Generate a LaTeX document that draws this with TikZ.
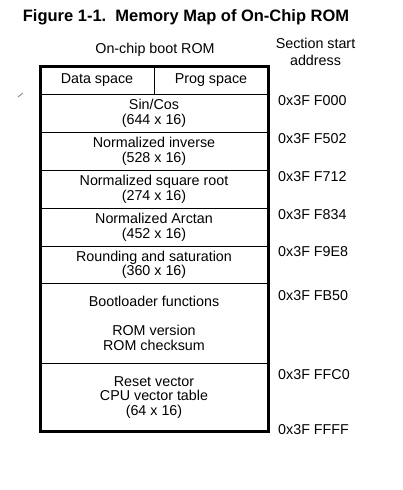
\documentclass[tikz,border=0pt]{standalone}
\usepackage{fontspec}
\setmainfont{Liberation Sans}
\usetikzlibrary{positioning}
\tikzset{
  memrow/.style={draw, line width=1pt, outer sep=0pt, inner sep=0pt, minimum width=228pt, align=center, anchor=north, font=\fontsize{14.3}{14.5}\selectfont},
  addr/.style={anchor=base west, inner sep=0pt, font=\fontsize{14.3}{14.5}\selectfont},
}

\begin{document}
\begin{tikzpicture}[x=1pt,y=1pt]
        \useasboundingbox (0,0) rectangle (402,-490);
        \node[anchor=base west, inner sep=0pt, font=\bfseries\fontsize{16.5}{18}\selectfont] (title) at (22.7,-21) {Figure 1-1.\ \ Memory Map of On-Chip ROM};
        \node[anchor=base, inner sep=0pt, font=\fontsize{14.3}{14.5}\selectfont] (rom) at (155,-53.3) {On-chip boot ROM};
        \node[anchor=base, inner sep=0pt, align=center, font=\fontsize{14.3}{16.7}\selectfont] (sect) at (315.5,-65) {Section start\\address};
        % memory rows
        \node[memrow, minimum width=114pt, minimum height=27.5pt, anchor=north west] (data) at (40,-66.5) {Data space};
        \node[memrow, minimum width=114pt, minimum height=27.5pt, anchor=north west] (prog) at (data.north east) {Prog space};
        \node[memrow, minimum height=38.3pt] (sincos) at (data.south east) {Sin/Cos\\(644 x 16)};
        \node[memrow, minimum height=38pt, below=0pt of sincos] (inv) {Normalized inverse\\(528 x 16)};
        \node[memrow, minimum height=38pt, below=0pt of inv] (sqrt) {Normalized square root\\(274 x 16)};
        \node[memrow, minimum height=38pt, below=0pt of sqrt] (atan) {Normalized Arctan\\(452 x 16)};
        \node[memrow, minimum height=37.4pt, below=0pt of atan] (round) {Rounding and saturation\\(360 x 16)};
        \node[memrow, minimum height=79.6pt, below=0pt of round] (boot) {Bootloader functions\\[14.5pt]ROM version\\ROM checksum};
        \node[memrow, minimum height=67.7pt, below=0pt of boot] (reset) {Reset vector\\CPU vector table\\(64 x 16)};
        \draw[line width=3pt] (data.north west) rectangle (reset.south east);
        % start addresses
        \node[addr] (a0) at (278,-105) {0x3F F000};
        \node[addr] (a1) at (278,-143.3) {0x3F F502};
        \node[addr] (a2) at (278,-181.7) {0x3F F712};
        \node[addr] (a3) at (278,-219.3) {0x3F F834};
        \node[addr] (a4) at (278,-256.7) {0x3F F9E8};
        \node[addr] (a5) at (278,-300) {0x3F FB50};
        \node[addr] (a6) at (278,-379) {0x3F FFC0};
        \node[addr] (a7) at (278,-434) {0x3F FFFF};
        \draw[gray, line width=0.8pt] (18,-97) -- (23,-93);
      \end{tikzpicture}
\end{document}
